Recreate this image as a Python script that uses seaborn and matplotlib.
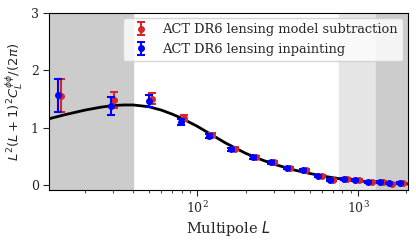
import numpy as np
import pandas as pd
import matplotlib
matplotlib.use("Agg")
import matplotlib.pyplot as plt
import seaborn as sns

# theory curve (units of 1e-7)
L_theory = [12, 15, 20, 25, 30, 35, 40, 50, 60, 70, 80, 100, 120, 150, 200,
            250, 300, 400, 500, 600, 800, 1000, 1300, 1600, 2050]
cl_theory = [1.16, 1.23, 1.31, 1.36, 1.39, 1.40, 1.40, 1.37, 1.31, 1.24, 1.17,
             1.03, 0.90, 0.74, 0.56, 0.45, 0.37, 0.27, 0.21, 0.165, 0.11,
             0.08, 0.055, 0.04, 0.027]

# inpainting bandpowers
L_inp = [13.6, 29, 50, 79.5, 118, 163, 222, 289, 363, 456, 567, 671, 813,
         965, 1160, 1362, 1560, 1830]
cl_inp = [1.57, 1.38, 1.47, 1.11, 0.86, 0.63, 0.49, 0.40, 0.30, 0.27, 0.16,
          0.10, 0.115, 0.10, 0.065, 0.065, 0.035, 0.04]
err_inp = [0.29, 0.15, 0.10, 0.05, 0.035, 0.03, 0.025, 0.02, 0.02, 0.02,
           0.015, 0.015, 0.015, 0.015, 0.015, 0.015, 0.015, 0.015]

# model subtraction bandpowers
L_sub = [14.3, 30.3, 52.5, 83.4, 123, 171, 232, 301, 380, 477, 594, 702,
         850, 1010, 1220, 1425, 1635, 1910]
cl_sub = [1.56, 1.48, 1.51, 1.17, 0.88, 0.64, 0.49, 0.40, 0.30, 0.27, 0.16,
          0.10, 0.11, 0.10, 0.065, 0.06, 0.03, 0.035]
err_sub = [0.29, 0.14, 0.10, 0.05, 0.035, 0.03, 0.025, 0.02, 0.02, 0.02,
           0.015, 0.015, 0.015, 0.015, 0.015, 0.015, 0.015, 0.015]

sns.set_style("ticks")
plt.rcParams["font.family"] = ["DejaVu Serif"]
plt.rcParams["mathtext.fontset"] = "dejavusans"

fig, ax = plt.subplots(figsize=(4.16, 2.4), dpi=100)
fig.subplots_adjust(left=0.118, right=0.981, top=0.946, bottom=0.208)

# excluded / extended ranges
ax.axvspan(12, 40, color="#cccccc", zorder=0)
ax.axvspan(763, 1300, color="#e5e5e5", zorder=0)
ax.axvspan(1300, 2050, color="#cccccc", zorder=0)

theory_df = pd.DataFrame({"L": L_theory, "cl": cl_theory})
sns.lineplot(data=theory_df, x="L", y="cl", color="black", lw=2, ax=ax, zorder=2)

ax.errorbar(L_sub, cl_sub, yerr=err_sub, fmt="o", color="tab:red", ms=4,
            capsize=3, elinewidth=1.5, capthick=1.5, zorder=3,
            label="ACT DR6 lensing model subtraction")
ax.errorbar(L_inp, cl_inp, yerr=err_inp, fmt="o", color="blue", ms=4,
            capsize=3, elinewidth=1.5, capthick=1.5, zorder=4,
            label="ACT DR6 lensing inpainting")

ax.set_xscale("log")
ax.set_xlim(12, 2050)
ax.set_ylim(-0.08, 3.0)
ax.set_yticks([0, 1, 2, 3])
ax.tick_params(labelsize=9, length=4)
ax.tick_params(which="minor", length=2.5)
ax.set_xlabel("Multipole $L$", fontsize=10.5, labelpad=2)
ax.set_ylabel(r"$L^2(L+1)^2C_L^{\phi\phi}/(2\pi)$", fontsize=9.5, labelpad=4)
for spine in ax.spines.values():
    spine.set_visible(True)
    spine.set_color("black")

ax.legend(loc="upper right", fontsize=9.4, frameon=True, handletextpad=0.6,
          borderaxespad=0.4)

plt.savefig("out.png", dpi=100)
